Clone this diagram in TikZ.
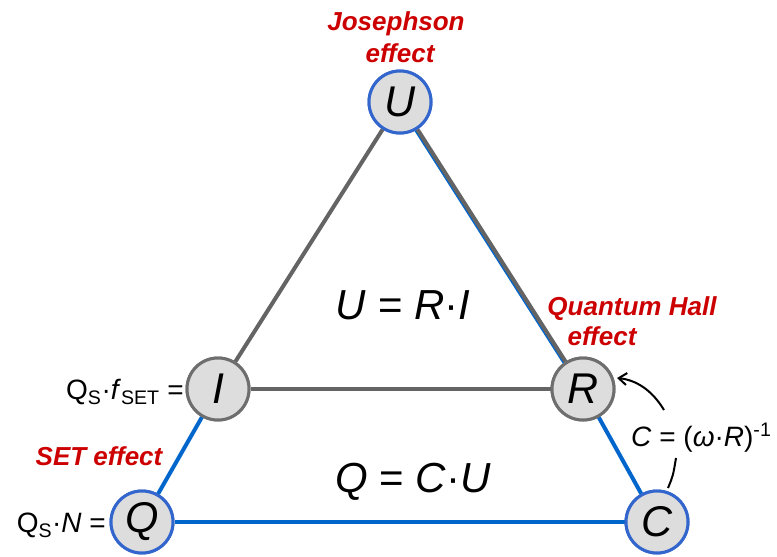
\documentclass[tikz,border=0pt]{standalone}
\usepackage{fontspec}
\setmainfont{Liberation Sans}
\usetikzlibrary{arrows.meta}
\definecolor{edgegrey}{RGB}{100,100,100}
\definecolor{edgeblue}{RGB}{0,102,204}
\definecolor{ringblue}{RGB}{51,102,204}
\definecolor{ringgrey}{RGB}{110,110,110}
\definecolor{nodefill}{RGB}{221,221,221}
\definecolor{effred}{RGB}{204,0,0}
\begin{document}
\begin{tikzpicture}[x=1pt,y=-1pt,
  vnode/.style={circle,minimum size=62pt,inner sep=0pt,fill=nodefill,line width=3pt,
    font=\fontsize{43}{43}\selectfont\itshape},
  bnode/.style={vnode,draw=ringblue},
  gnode/.style={vnode,draw=ringgrey},
  gedge/.style={draw=edgegrey,line width=4pt},
  bedge/.style={draw=edgeblue,line width=4pt},
  efflabel/.style={text=effred,font=\fontsize{26}{32}\selectfont\bfseries\itshape,align=center,inner sep=0pt},
  eqlabel/.style={font=\fontsize{42}{42}\selectfont,inner sep=0pt},
  sidelabel/.style={font=\fontsize{28}{28}\selectfont,inner sep=0pt},
  relarrow/.style={draw=black,line width=2pt}
]
\useasboundingbox (0,0) rectangle (777,557);

% nodes
\node[bnode] (U) at (400,102) {U};
\node[gnode] (I) at (218,389) {I};
\node[gnode] (R) at (583,389) {R};
\node[bnode] (Q) at (142,522) {Q};
\node[bnode] (C) at (657,522) {C};

% edges
\draw[bedge,line width=3pt,transform canvas={xshift=-1.6pt,yshift=-1.0pt}] (U) -- (R);
\draw[gedge] (U) -- (R);
\draw[gedge] (U) -- (I);
\draw[gedge] (I) -- (R);
\draw[bedge] (I) -- (Q);
\draw[bedge] (R) -- (C);
\draw[bedge] (Q) -- (C);

% redraw nodes on top
\node[bnode] at (U) {U};
\node[gnode] at (I) {I};
\node[gnode] at (R) {R};
\node[bnode] at (Q) {Q};
\node[bnode] at (C) {C};

% effect labels
\node[efflabel,anchor=base] (jos) at (396,30) {Josephson};
\node[efflabel,anchor=base] (joseff) at (400,62) {effect};
\node[efflabel,anchor=base] (qh) at (632,315) {Quantum Hall};
\node[efflabel,anchor=base] (qheff) at (602,345) {effect};
\node[efflabel,anchor=base] (set) at (99,465) {SET effect};

% equations
\node[eqlabel,anchor=base] (ohm) at (403,319) {\textit{U} = \textit{R}·\textit{I}};
\node[eqlabel,anchor=base] (cap) at (413,492) {\textit{Q} = \textit{C}·\textit{U}};

% side labels
\node[sidelabel,anchor=base east] (qf) at (184,399) {Q\textsubscript{S}·\textit{f}\textsubscript{SET} =};
\node[sidelabel,anchor=base east] (qn) at (106,532) {Q\textsubscript{S}·\textit{N} =};
\node[sidelabel,anchor=base west] (cw) at (631,446) {\textit{C} = (\textit{ω}·\textit{R})\textsuperscript{-1}};

% relation arrow
\coordinate (arrstart) at (664,410);
\coordinate (arrtip) at (617,378);
\coordinate (lowtop) at (676,458);
\coordinate (lowbot) at (668,488);
\draw[relarrow,-{Straight Barb[length=8pt,width=12pt]}] (arrstart) .. controls (652,390) and (636,380) .. (arrtip);
\draw[relarrow] (lowbot) .. controls (673,476) .. (lowtop);
\end{tikzpicture}
\end{document}
